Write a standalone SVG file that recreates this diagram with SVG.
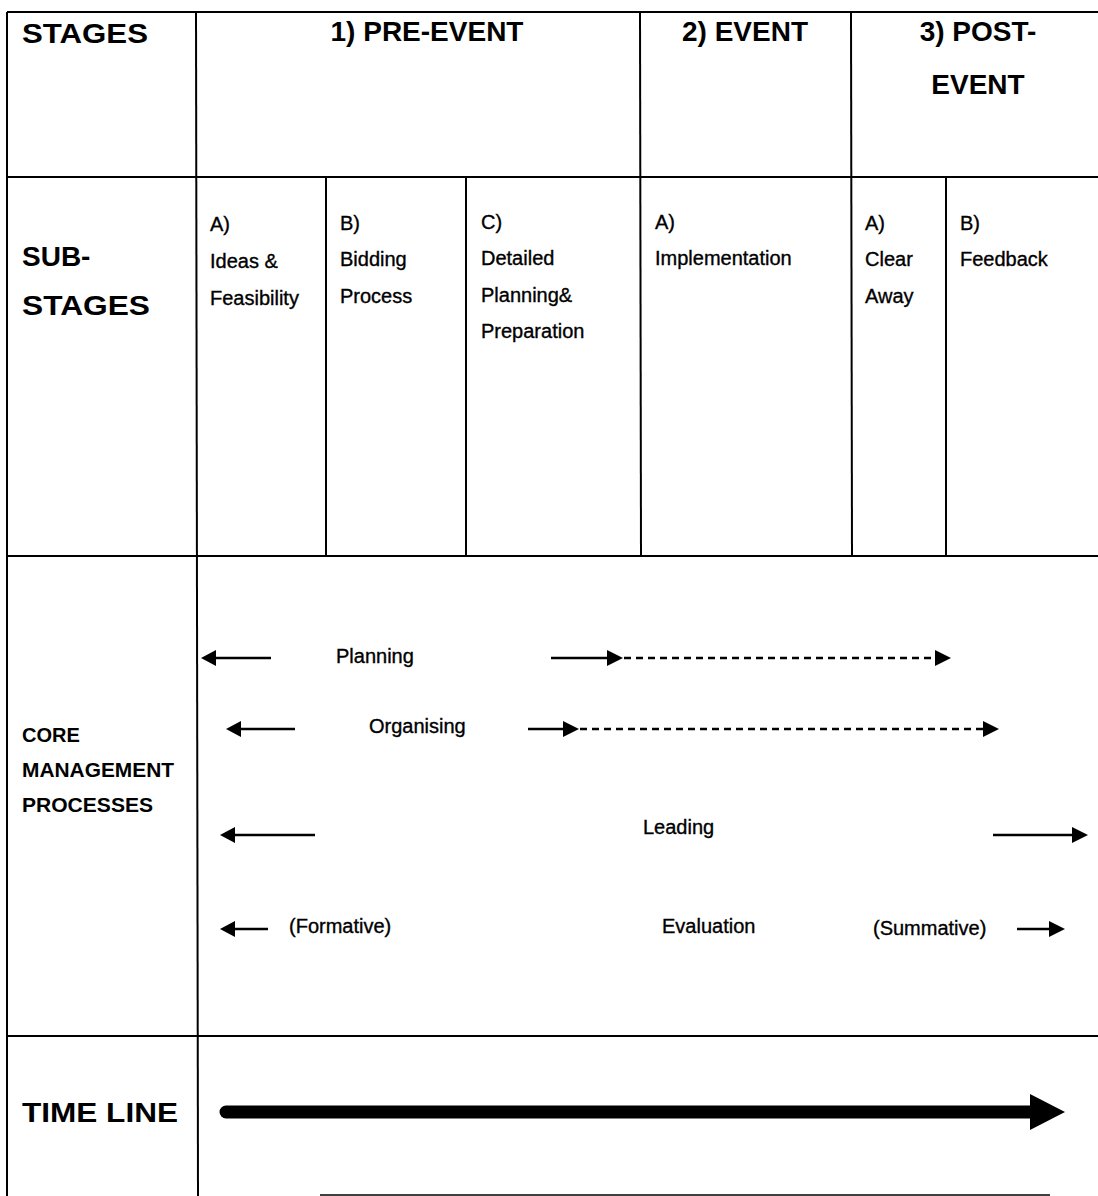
<svg xmlns="http://www.w3.org/2000/svg" width="1098" height="1196" viewBox="0 0 1098 1196">
<style>
.grid{stroke:#000;stroke-width:2;fill:none}
.h{font-family:"Liberation Sans",Arial,sans-serif;font-weight:bold;font-size:28px;fill:#000}
.t{font-family:"Liberation Sans",Arial,sans-serif;font-size:20px;fill:#000;stroke:#000;stroke-width:0.35}
.c{font-family:"Liberation Sans",Arial,sans-serif;font-weight:bold;font-size:20px;fill:#000}
.ln{stroke:#000;stroke-width:2.5;fill:none}
.dash{stroke:#000;stroke-width:2.5;fill:none;stroke-dasharray:7 5}
.hd{fill:#000}
</style>
<rect width="1098" height="1196" fill="#fff"/>
<g id="grid">
<line class="grid" x1="7" y1="12" x2="1098" y2="12"/>
<line class="grid" x1="7" y1="12" x2="7" y2="1196"/>
<line class="grid" x1="7" y1="177" x2="1098" y2="177"/>
<line class="grid" x1="7" y1="556" x2="1098" y2="556"/>
<line class="grid" x1="7" y1="1036" x2="1098" y2="1036"/>
<line class="grid" x1="196" y1="12" x2="198" y2="1196"/>
<line class="grid" x1="640" y1="12" x2="641" y2="556"/>
<line class="grid" x1="851" y1="12" x2="852" y2="556"/>
<line class="grid" x1="326" y1="177" x2="326" y2="556"/>
<line class="grid" x1="466" y1="177" x2="466" y2="556"/>
<line class="grid" x1="946" y1="177" x2="946" y2="556"/>
<line x1="320" y1="1195" x2="1050" y2="1195" stroke="#000" stroke-width="1.5"/>
</g>
<g id="stages-label"><text class="h" x="22" y="43" textLength="126" lengthAdjust="spacingAndGlyphs">STAGES</text></g>
<g id="pre-event"><text class="h" x="427" y="41" text-anchor="middle">1) PRE-EVENT</text></g>
<g id="event"><text class="h" x="745" y="41" text-anchor="middle">2) EVENT</text></g>
<g id="post-event"><text class="h" x="978" y="41" text-anchor="middle">3) POST-</text><text class="h" x="978" y="94" text-anchor="middle">EVENT</text></g>
<g id="substages-label"><text class="h" x="22" y="266">SUB-</text><text class="h" x="22" y="315" textLength="128" lengthAdjust="spacingAndGlyphs">STAGES</text></g>
<g id="ideas"><text class="t" x="210" y="231">A)</text><text class="t" x="210" y="268">Ideas &amp;</text><text class="t" x="210" y="305">Feasibility</text></g>
<g id="bidding"><text class="t" x="340" y="230">B)</text><text class="t" x="340" y="266">Bidding</text><text class="t" x="340" y="303">Process</text></g>
<g id="detailed"><text class="t" x="481" y="229">C)</text><text class="t" x="481" y="265">Detailed</text><text class="t" x="481" y="302">Planning&amp;</text><text class="t" x="481" y="338">Preparation</text></g>
<g id="implementation"><text class="t" x="655" y="229">A)</text><text class="t" x="655" y="265">Implementation</text></g>
<g id="clear-away"><text class="t" x="865" y="230">A)</text><text class="t" x="865" y="266">Clear</text><text class="t" x="865" y="303">Away</text></g>
<g id="feedback"><text class="t" x="960" y="230">B)</text><text class="t" x="960" y="266">Feedback</text></g>
<g id="core-label"><text class="c" x="22" y="742">CORE</text><text class="c" x="22" y="777" textLength="152" lengthAdjust="spacingAndGlyphs">MANAGEMENT</text><text class="c" x="22" y="812" textLength="131" lengthAdjust="spacingAndGlyphs">PROCESSES</text></g>
<g id="planning"><text class="t" x="336" y="663">Planning</text></g>
<g id="organising"><text class="t" x="369" y="733">Organising</text></g>
<g id="leading"><text class="t" x="643" y="834">Leading</text></g>
<g id="evaluation"><text class="t" x="289" y="933">(Formative)</text><text class="t" x="662" y="933">Evaluation</text><text class="t" x="873" y="935">(Summative)</text></g>
<g id="timeline-label"><text class="h" x="22" y="1122" font-size="31" textLength="156" lengthAdjust="spacingAndGlyphs">TIME LINE</text></g>
<g id="connectors">
<line class="ln" x1="271" y1="658" x2="212" y2="658"/><polygon class="hd" points="201,658 216,650 216,666"/>
<line class="ln" x1="551" y1="658" x2="608" y2="658"/><polygon class="hd" points="623,658 607,650 607,666"/>
<line class="dash" x1="624" y1="658" x2="936" y2="658"/><polygon class="hd" points="951,658 935,650 935,666"/>
<line class="ln" x1="295" y1="729" x2="236" y2="729"/><polygon class="hd" points="226,729 241,721 241,737"/>
<line class="ln" x1="528" y1="729" x2="565" y2="729"/><polygon class="hd" points="579,729 563,721 563,737"/>
<line class="dash" x1="580" y1="729" x2="984" y2="729"/><polygon class="hd" points="999,729 983,721 983,737"/>
<line class="ln" x1="315" y1="835" x2="230" y2="835"/><polygon class="hd" points="220,835 235,827 235,843"/>
<line class="ln" x1="993" y1="835" x2="1075" y2="835"/><polygon class="hd" points="1088,835 1072,827 1072,843"/>
<line class="ln" x1="268" y1="929" x2="230" y2="929"/><polygon class="hd" points="220,929 235,921 235,937"/>
<line class="ln" x1="1017" y1="929" x2="1052" y2="929"/><polygon class="hd" points="1065,929 1049,921 1049,937"/>
<line x1="226" y1="1112" x2="1032" y2="1112" stroke="#000" stroke-width="13" stroke-linecap="round"/>
<polygon class="hd" points="1030,1094 1065,1112 1030,1130"/>
</g>
</svg>
